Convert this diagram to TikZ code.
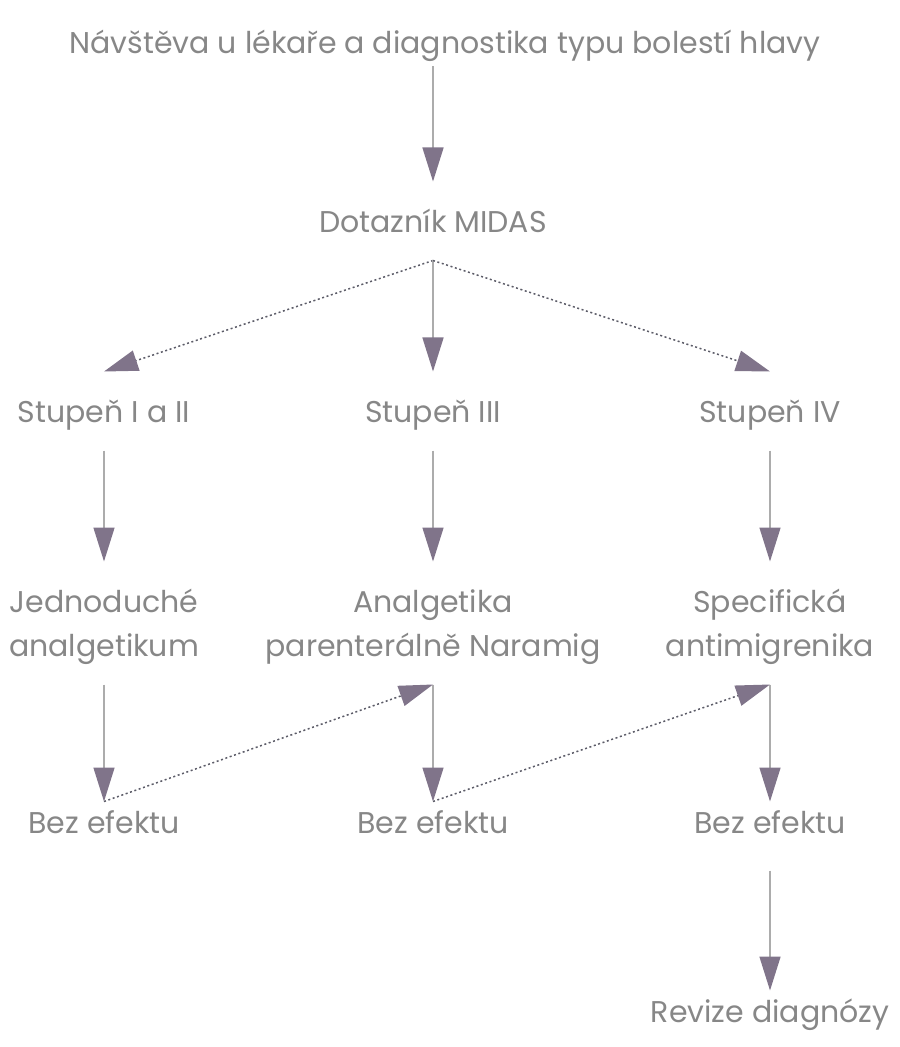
\documentclass[tikz,border=0pt]{standalone}
\usepackage{fontspec}
\setmainfont{Poppins}
\usetikzlibrary{arrows.meta}
\definecolor{hdtext}{RGB}{135,135,135}
\definecolor{hdline}{RGB}{172,172,172}
\definecolor{hddot}{RGB}{92,92,104}
\definecolor{hdhead}{RGB}{128,116,138}
\tikzset{
  lab/.style={font=\fontsize{15}{22}\selectfont, text=hdtext, align=center,
              inner sep=0pt, text height=11.5pt, text depth=0pt, outer ysep=14pt},
  twoline/.style={lab, text height=33.5pt},
  low/.style={lab, outer ysep=4.5pt},
  arr/.style={-{Triangle[length=17pt, width=10.5pt, color=hdhead]}, draw=hdline, line width=0.75pt},
  dotarr/.style={arr, draw=hddot, dash pattern=on 1pt off 1.3pt}
}
\begin{document}
\begin{tikzpicture}[x=0.5pt, y=-0.5pt]
  \useasboundingbox (0,0) rectangle (899,1047);
  % rows
  \node[lab, outer ysep=6.5pt] (visit) at (445,42) {Návštěva u lékaře a diagnostika typu bolestí hlavy};
  \node[lab] (midas) at (433,221) {Dotazník MIDAS};
  \node[lab] (st12) at (104,411) {Stupeň I a II};
  \node[lab] (st3) at (433,411) {Stupeň III};
  \node[lab] (st4) at (770,411) {Stupeň IV};
  \node[twoline] (simple) at (104,623) {Jednoduché\\analgetikum};
  \node[twoline] (paren) at (433,623) {Analgetika\\parenterálně Naramig};
  \node[twoline] (antimig) at (770,623) {Specifická\\antimigrenika};
  \node[low] (noeff1) at (104,822) {Bez efektu};
  \node[low] (noeff3) at (433,822) {Bez efektu};
  \node[low] (noeff4) at (770,822) {Bez efektu};
  \node[low] (revize) at (770,1011) {Revize diagnózy};
  % connectors
  \draw[arr] (visit.south -| midas) -- (midas.north);
  \draw[dotarr] (midas.south) -- (st12.north);
  \draw[arr] (midas.south) -- (st3.north);
  \draw[dotarr] (midas.south) -- (st4.north);
  \draw[arr] (st12) -- (simple);
  \draw[arr] (st3) -- (paren);
  \draw[arr] (st4) -- (antimig);
  \draw[arr] (simple) -- (noeff1);
  \draw[arr] (paren) -- (noeff3);
  \draw[arr] (antimig) -- (noeff4);
  \draw[dotarr] (noeff1.north) -- (paren.south);
  \draw[dotarr] (noeff3.north) -- (antimig.south);
  \draw[arr, shorten <=14pt] (noeff4) -- (revize);
\end{tikzpicture}
\end{document}
